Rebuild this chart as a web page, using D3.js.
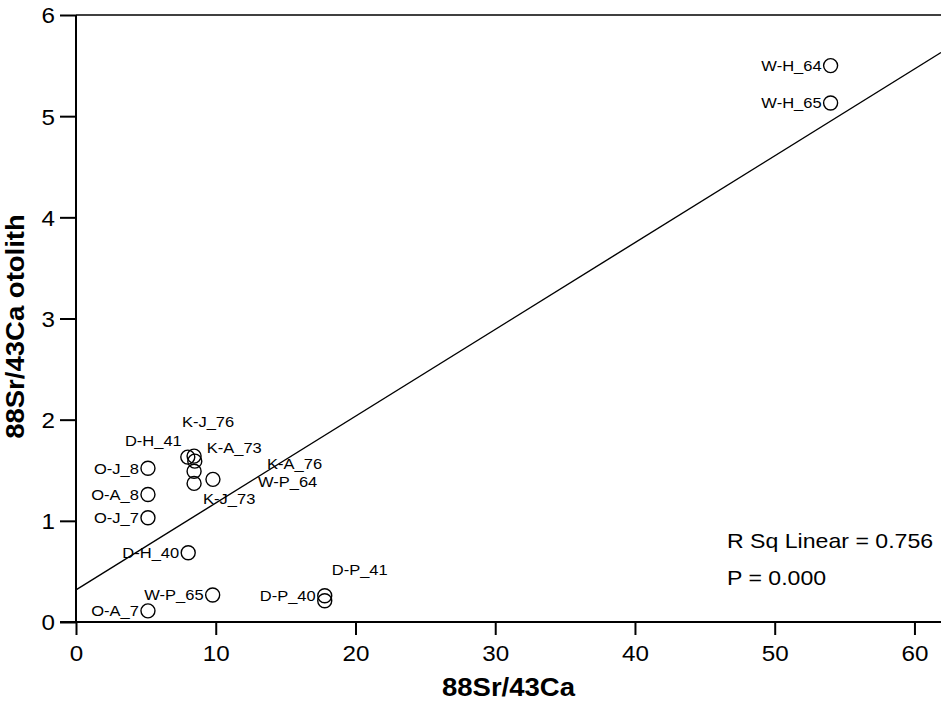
<!DOCTYPE html>
<html>
<head>
<meta charset="utf-8">
<script src="https://cdn.jsdelivr.net/npm/d3@7"></script>
<style>
  html, body { margin: 0; padding: 0; background: #fff; }
  svg { display: block; font-family: "Liberation Sans", Arial, sans-serif; }
</style>
</head>
<body>
<svg id="chart" width="941" height="702"></svg>
<script>
// Sample sites and their Sr/Ca ratios (water vs. otolith)
const sampleLabels = ["W-H_64", "W-H_65", "O-J_8", "O-A_8", "O-J_7", "O-A_7",
  "D-H_40", "W-P_65", "D-P_40", "D-P_41", "D-H_41", "K-J_76", "K-A_73",
  "K-A_76", "K-J_73", "W-P_64"];
const srCaWater = [54.0, 54.0, 5.15, 5.15, 5.15, 5.15,
  8.03, 9.78, 17.8, 17.8, 8.0, 8.45, 8.5,
  8.45, 8.45, 9.8];
const srCaOtolith = [5.50, 5.13, 1.52, 1.26, 1.03, 0.11,
  0.685, 0.267, 0.26, 0.21, 1.63, 1.64, 1.59,
  1.49, 1.37, 1.41];

// Linear fit and its summary
const fitIntercept = 0.318;
const fitSlope = 0.0858;
const rSquared = "0.756";
const pValue = "0.000";

// Axis ticks
const xTicks = [0, 10, 20, 30, 40, 50, 60];
const yTicks = [0, 1, 2, 3, 4, 5, 6];

// Label placement: default is left of the marker; crowded ones are moved
const labelPlacement = {
  "D-P_41": { anchor: "start", dx: 7, dy: -31 },
  "K-J_76": { anchor: "middle", dx: 14, dy: -34 },
  "D-H_41": { anchor: "end", dx: -6, dy: -16 },
  "K-A_73": { anchor: "start", dx: 12, dy: -14 },
  "K-A_76": { anchor: "start", dx: 73, dy: -8 },
  "W-P_64": { anchor: "start", dx: 45, dy: 2 },
  "K-J_73": { anchor: "start", dx: 9, dy: 15 }
};

const svg = d3.select("#chart");
const W = 941, H = 702;
const plotLeft = 76, plotTop = 15, plotBottom = 622;

const x = d3.scaleLinear().domain([0, 61.9]).range([plotLeft, W]);
const y = d3.scaleLinear().domain([0, 6]).range([plotBottom, plotTop]);

// Top frame line
svg.append("line")
  .attr("x1", plotLeft).attr("x2", W)
  .attr("y1", y(6)).attr("y2", y(6))
  .attr("stroke", "#000").attr("stroke-width", 1.3);

// Y axis
const yAxis = svg.append("g")
  .attr("transform", `translate(${plotLeft},0)`)
  .call(d3.axisLeft(y).tickValues(yTicks).tickSize(16).tickPadding(5).tickFormat(d3.format("d")));
// X axis
const xAxis = svg.append("g")
  .attr("transform", `translate(0,${plotBottom})`)
  .call(d3.axisBottom(x).tickValues(xTicks).tickSize(13).tickPadding(6).tickFormat(d3.format("d")));

[yAxis, xAxis].forEach(g => {
  g.select(".domain").remove();
  g.selectAll(".tick line").attr("stroke", "#000").attr("stroke-width", 2);
  g.selectAll(".tick text")
    .attr("fill", "#000")
    .style("font-size", "22px")
    .style("font-family", "'Liberation Sans', Arial, sans-serif");
});
yAxis.selectAll(".tick text").attr("dy", "0.36em");
xAxis.selectAll(".tick text").attr("dy", "0.9em");

// Axis lines
svg.append("line")
  .attr("x1", plotLeft).attr("x2", plotLeft)
  .attr("y1", y(6)).attr("y2", plotBottom)
  .attr("stroke", "#000").attr("stroke-width", 2);
svg.append("line")
  .attr("x1", plotLeft - 16).attr("x2", W)
  .attr("y1", plotBottom).attr("y2", plotBottom)
  .attr("stroke", "#000").attr("stroke-width", 2);

// Fit line
const xMax = x.domain()[1];
svg.append("line")
  .attr("x1", x(0)).attr("y1", y(fitIntercept))
  .attr("x2", x(xMax)).attr("y2", y(fitIntercept + fitSlope * xMax))
  .attr("stroke", "#000").attr("stroke-width", 1.4);

// Markers
const pts = sampleLabels.map((name, i) => ({ name, sx: srCaWater[i], sy: srCaOtolith[i] }));
svg.append("g").selectAll("circle")
  .data(pts).join("circle")
  .attr("cx", d => x(d.sx))
  .attr("cy", d => y(d.sy))
  .attr("r", 7)
  .attr("fill", "none")
  .attr("stroke", "#000")
  .attr("stroke-width", 1.4);

// Marker labels
svg.append("g").selectAll("text")
  .data(pts).join("text")
  .attr("class", "stretch")
  .attr("x", d => x(d.sx) + (labelPlacement[d.name] ? labelPlacement[d.name].dx : -9))
  .attr("y", d => y(d.sy) + (labelPlacement[d.name] ? labelPlacement[d.name].dy : 0))
  .attr("dy", "0.36em")
  .attr("text-anchor", d => labelPlacement[d.name] ? labelPlacement[d.name].anchor : "end")
  .style("font-size", "15px")
  .attr("fill", "#000")
  .text(d => d.name);

// Fit summary
const summary = svg.append("g").attr("transform", `translate(727,0)`);
summary.append("text").attr("class", "stretch")
  .attr("x", 0).attr("y", 548)
  .style("font-size", "21px").attr("fill", "#000")
  .text(`R Sq Linear = ${rSquared}`);
summary.append("text").attr("class", "stretch")
  .attr("x", 0).attr("y", 585)
  .style("font-size", "21px").attr("fill", "#000")
  .text(`P = ${pValue}`);

// Axis titles
svg.append("text").attr("class", "stretch")
  .attr("x", (plotLeft + W) / 2).attr("y", 696)
  .attr("text-anchor", "middle")
  .style("font-size", "25px").style("font-weight", "bold")
  .attr("fill", "#000")
  .text("88Sr/43Ca");
svg.append("text").attr("class", "stretch")
  .attr("transform", `translate(24,${(plotTop + plotBottom) / 2 + 8}) rotate(-90)`)
  .attr("text-anchor", "middle")
  .style("font-size", "25px").style("font-weight", "bold")
  .attr("fill", "#000")
  .text("88Sr/43Ca otolith");

// The output font is slightly wide; widen glyphs by 10%
svg.selectAll("text.stretch, .tick text").each(function () {
  const len = this.getComputedTextLength();
  d3.select(this).attr("textLength", len * 1.1).attr("lengthAdjust", "spacingAndGlyphs");
});
</script>
</body>
</html>
